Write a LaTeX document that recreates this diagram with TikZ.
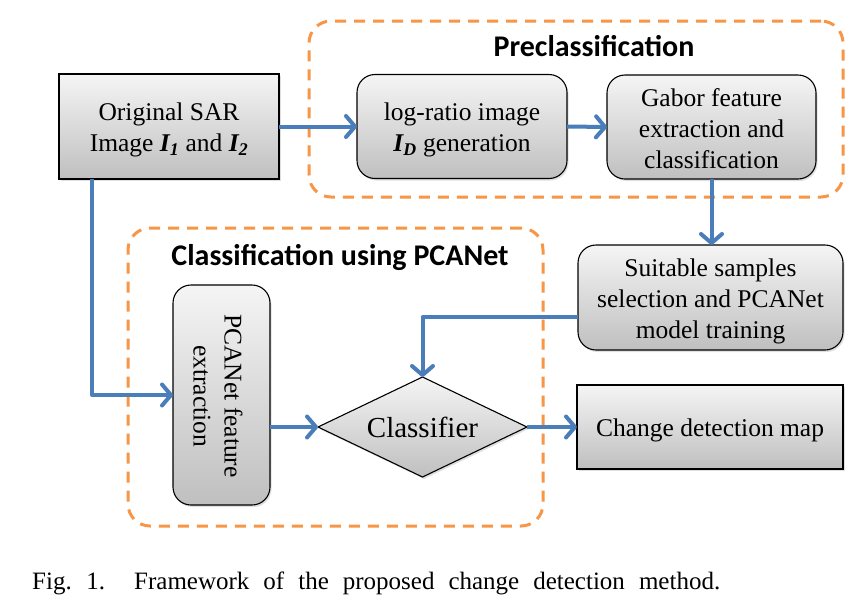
\documentclass[tikz,border=0pt]{standalone}
\usepackage{fontspec}
\setmainfont{Liberation Serif}
\newfontfamily\headfont{Carlito}
\usetikzlibrary{arrows.meta,shapes.geometric,shadows}
\definecolor{flowblue}{RGB}{74,126,187}
\definecolor{dashorange}{RGB}{247,150,70}
\newcommand\boxfont{\fontsize{25.5}{31}\selectfont}
\newcommand\clffont{\fontsize{29}{34}\selectfont}
\newcommand\headtextfont{\headfont\bfseries\fontsize{30}{36}\selectfont}
\newcommand\capfont{\fontsize{25}{30}\selectfont}
\newcommand\bi[2]{\textbf{\textit{#1\textsubscript{#2}}}}
\tikzset{
  box/.style={draw=black, line width=1.1pt, top color=black!4, bottom color=black!25,
    drop shadow={shadow xshift=1.5pt, shadow yshift=-2pt, opacity=0.25},
    inner sep=0pt, outer sep=0pt},
  rbox/.style={box, rounded corners=18pt},
  boxtext/.style={font=\boxfont, align=center, inner sep=0pt, yshift=-3.5pt},
  grp/.style={draw=dashorange, line width=3pt, dash pattern=on 11pt off 8pt,
    rounded corners=22pt, inner sep=0pt, outer sep=0pt},
  flow/.style={draw=flowblue, line width=4pt, line join=round,
    -{Straight Barb[length=9pt,width=21pt,round]}},
  grptitle/.style={font=\headtextfont, inner sep=0pt},
}
\begin{document}
\begin{tikzpicture}[x=1pt,y=-1pt]
\useasboundingbox (0,0) rectangle (859,606);
\fill[white] (0,0) rectangle (859,606);

% groups
\node[grp, minimum width=534pt, minimum height=176pt] (pre) at (576,109) {};
\node[grp, minimum width=415pt, minimum height=298pt] (cls) at (335.5,377) {};
\node[grptitle] (pretitle) at (594,46) {Preclassification};
\node[grptitle] (clstitle) at (340,257) {Classification using PCANet};

% boxes
\node[box, minimum width=220pt, minimum height=105pt] (orig) at (169,126.5) {};
\node[boxtext] (origt) at (orig.center) {Original SAR\\Image \bi{I}{1} and \bi{I}{2}};
\node[rbox, minimum width=210pt, minimum height=104pt] (logr) at (462,126.5) {};
\node[boxtext] (logrt) at (logr.center) {log-ratio image\\\bi{I}{D} generation};
\node[rbox, minimum width=209pt, minimum height=104pt] (gabor) at (711.5,127) {};
\node[boxtext, yshift=1.5pt] (gabort) at (gabor.center) {Gabor feature\\extraction and\\classification};
\node[rbox, minimum width=265pt, minimum height=105pt] (suit) at (710.5,297.5) {};
\node[boxtext] (suitt) at (suit.center) {Suitable samples\\selection and PCANet\\model training};
\node[box, minimum width=266pt, minimum height=84pt] (chg) at (710,427) {};
\node[boxtext] (chgt) at (chg.center) {Change detection map};
\node[rbox, minimum width=97pt, minimum height=220pt] (pca) at (221.5,395) {};
\node[font=\boxfont, align=center, rotate=-90, inner sep=0pt] (pcatext) at (218,396)
  {PCANet feature\\extraction};
\node[diamond, draw=black, line width=1.1pt, top color=black!4, bottom color=black!25,
  drop shadow={shadow xshift=1.5pt, shadow yshift=-2pt, opacity=0.25},
  minimum width=209pt, minimum height=100pt, aspect=2.09, inner sep=0pt, outer sep=0pt,
  font=\clffont] (clf) at (422.5,427) {Classifier};

% connectors
\draw[flow] (orig.east) -- (logr.west);
\draw[flow] (logr.east) -- (gabor.west);
\draw[flow] (gabor.south) -- (gabor.south |- suit.north);
\draw[flow] ([yshift=-19.5pt]suit.west) -| (clf.north);
\draw[flow] ([xshift=33pt]orig.south west) |- (pca.west);
\draw[flow] (pca.east |- clf.west) -- (clf.west);
\draw[flow] (clf.east) -- (chg.west);

% caption
\node[font=\capfont, anchor=base west, inner sep=0pt] (figlbl) at (32,589)
  {\makebox[73pt][s]{Fig. 1.}};
\node[font=\capfont, anchor=base west, inner sep=0pt] (figcap) at (134,589)
  {\makebox[586pt][s]{Framework of the proposed change detection method.}};
\end{tikzpicture}
\end{document}
